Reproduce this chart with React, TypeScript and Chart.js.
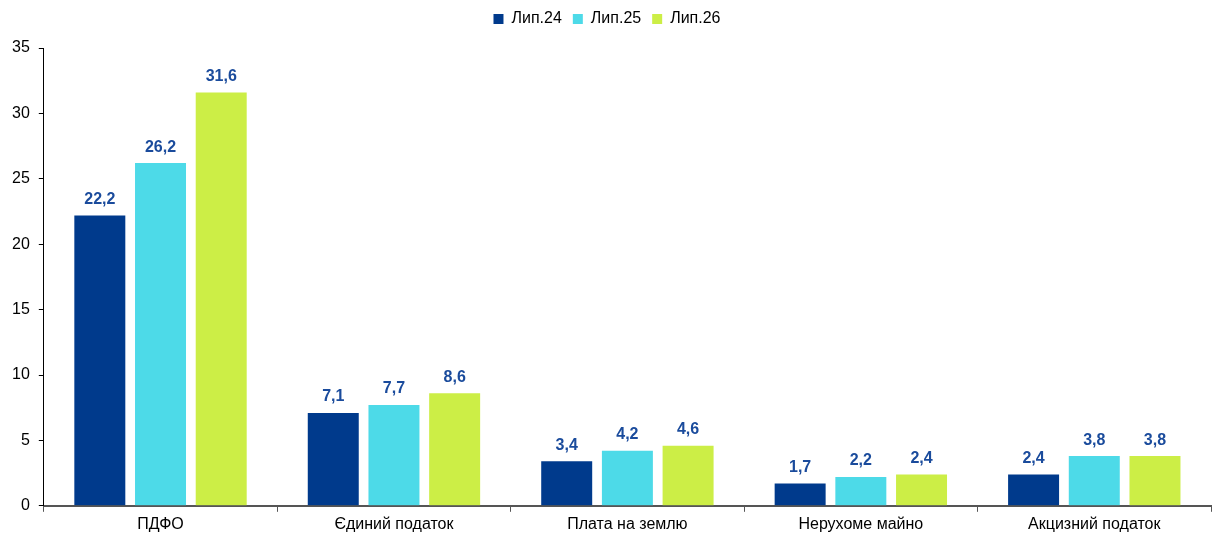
import React, { useEffect, useRef } from "react";
import { Chart, registerables, Plugin } from "chart.js";

Chart.register(...registerables);

const categories = ["ПДФО", "Єдиний податок", "Плата на землю", "Нерухоме майно", "Акцизний податок"];
const seriesNames = ["Лип.24", "Лип.25", "Лип.26"];
const jul24 = [22.2, 7.1, 3.4, 1.7, 2.4];
const jul25 = [26.2, 7.7, 4.2, 2.2, 3.8];
const jul26 = [31.6, 8.6, 4.6, 2.4, 3.8];
const colors = ["#003A8C", "#4DDAE8", "#CCEE46"];

const FONT = "'Liberation Sans', Arial, sans-serif";

const valueLabels: Plugin<"bar"> = {
  id: "valueLabels",
  afterDatasetsDraw(chart) {
    const ctx = chart.ctx;
    ctx.save();
    ctx.font = `bold 16px ${FONT}`;
    ctx.fillStyle = "#1A4B9C";
    ctx.textAlign = "center";
    ctx.textBaseline = "bottom";
    chart.data.datasets.forEach((ds, i) => {
      const meta = chart.getDatasetMeta(i);
      meta.data.forEach((bar, j) => {
        const v = ds.data[j] as number;
        ctx.fillText(v.toFixed(1).replace(".", ","), bar.x, bar.y - 8);
      });
    });
    ctx.restore();
  },
};

// extra room under the legend
const legendGap: Plugin<"bar"> = {
  id: "legendGap",
  beforeInit(chart) {
    const legend = chart.legend as any;
    if (!legend) return;
    const origFit = legend.fit;
    legend.fit = function () {
      origFit.bind(legend)();
      this.height += 11;
    };
  },
};

const App: React.FC = () => {
  const chartRef = useRef<HTMLCanvasElement>(null);
  const chartInstance = useRef<Chart<"bar">>();

  useEffect(() => {
    document.body.style.margin = "0";
    if (chartRef.current) {
      const ctx = chartRef.current.getContext("2d");
      if (ctx) {
        chartInstance.current = new Chart(ctx, {
          type: "bar",
          data: {
            labels: categories,
            datasets: [jul24, jul25, jul26].map((d, i) => ({
              label: seriesNames[i],
              data: d,
              backgroundColor: colors[i],
              categoryPercentage: 0.78,
              barPercentage: 0.84,
            })),
          },
          options: {
            responsive: false,
            animation: false,
            layout: { padding: { left: 3, right: 16, top: 0, bottom: 4 } },
            plugins: {
              legend: {
                position: "top",
                labels: {
                  boxWidth: 10,
                  boxHeight: 10,
                  padding: 11,
                  color: "#000",
                  font: { family: FONT, size: 16 },
                },
              },
              tooltip: { enabled: false },
            },
            scales: {
              x: {
                grid: {
                  drawOnChartArea: false,
                  drawTicks: true,
                  tickLength: 6,
                  color: "#555",
                },
                border: { color: "#555", width: 2 },
                ticks: { color: "#000", font: { family: FONT, size: 16 }, padding: 3 },
              },
              y: {
                min: 0,
                max: 35,
                ticks: {
                  stepSize: 5,
                  color: "#000",
                  font: { family: FONT, size: 16 },
                  padding: 9,
                },
                grid: {
                  drawOnChartArea: false,
                  drawTicks: true,
                  tickLength: 5,
                  color: "#000",
                },
                border: { color: "#000", width: 1 },
              },
            },
          },
          plugins: [valueLabels, legendGap],
        });
      }
    }
    return () => {
      if (chartInstance.current) {
        chartInstance.current.destroy();
      }
    };
  }, []);

  return (
    <div>
      <canvas ref={chartRef} width={1227} height={541} />
    </div>
  );
};

export default App;
